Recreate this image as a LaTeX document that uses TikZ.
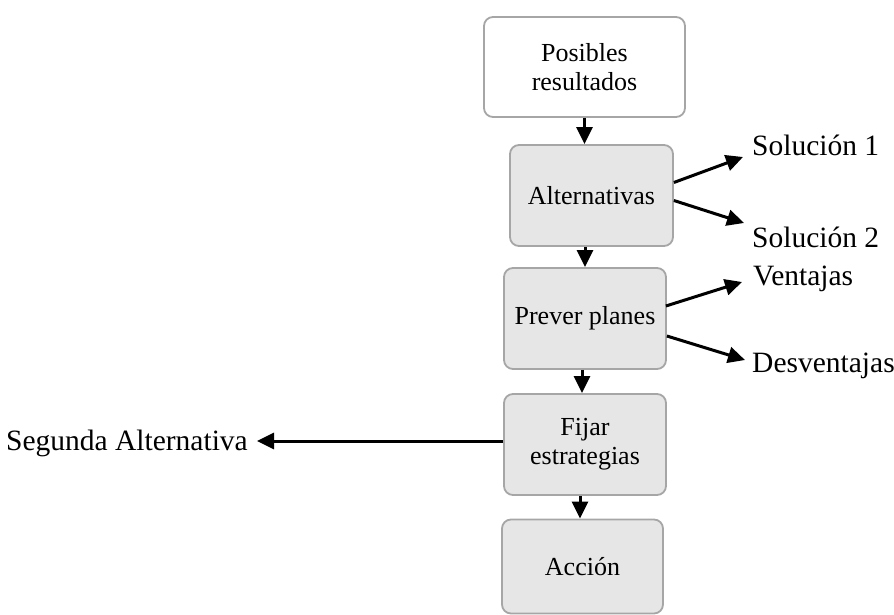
\documentclass[tikz,border=0pt]{standalone}
\usepackage{fontspec}
\setmainfont{Liberation Serif}
\usetikzlibrary{arrows.meta,calc}
\begin{document}
\begin{tikzpicture}[x=1pt,y=-1pt,
  box/.style={draw=boxline, line width=1.8pt, rounded corners=9pt, fill=boxfill,
    align=center, inner sep=0pt, font=\fontsize{26}{29}\selectfont},
  topbox/.style={box, fill=white},
  lbl/.style={anchor=base west, inner sep=0pt, font=\fontsize{29.5}{32}\selectfont},
  conn/.style={line width=3pt, -{Triangle[length=17pt,width=16pt]}}]
\definecolor{boxfill}{HTML}{E6E6E6}
\definecolor{boxline}{HTML}{A6A6A6}
\useasboundingbox (0,0) rectangle (894,615);

% chain of steps
\node[topbox, minimum width=201pt, minimum height=100pt] (b1) at (584.5,67) {Posibles\\resultados};
\node[box, minimum width=163pt, minimum height=101pt] (b2) at (591.5,195.5) {Alternativas};
\node[box, minimum width=162pt, minimum height=101pt] (b3) at (585,318.5) {Prever planes};
\node[box, minimum width=162pt, minimum height=101pt] (b4) at (585,444.5) {Fijar\\estrategias};
\node[box, minimum width=161pt, minimum height=94pt] (b5) at (582.5,566.5) {Acción};

% side labels
\node[lbl] (s1) at (752,155) {Solución 1};
\node[lbl] (s2) at (752,247) {Solución 2};
\node[lbl] (v) at (753,285) {Ventajas};
\node[lbl] (d) at (752,372) {Desventajas};
\node[lbl, anchor=base east] (sa) at (248,450) {Segunda Alternativa};

% end points of the side arrows
\coordinate (s1tip) at (743,157);
\coordinate (s2tip) at (744,223);
\coordinate (vtip) at (742,282);
\coordinate (dtip) at (745,360);

% vertical connectors
\draw[conn] (b1.south) -- (b1.south |- b2.north);
\draw[conn] (b3.north |- b2.south) -- (b3.north);
\draw[conn] ([xshift=-3pt]b3.south) -- ([xshift=-3pt]b3.south |- b4.north);
\draw[conn] ([xshift=-5pt]b4.south) -- ([xshift=-5pt]b4.south |- b5.north);

% branching connectors
\draw[conn] ([yshift=13pt]b2.east) -- (s1tip);
\draw[conn] ([yshift=-5pt]b2.east) -- (s2tip);
\draw[conn] ([yshift=12.5pt,xshift=-1pt]b3.east) -- (vtip);
\draw[conn] ([yshift=-17.5pt]b3.east) -- (dtip);
\draw[conn] ([yshift=3.5pt]b4.west) -- ([xshift=9pt,yshift=9pt]sa.base east);
\end{tikzpicture}
\end{document}
